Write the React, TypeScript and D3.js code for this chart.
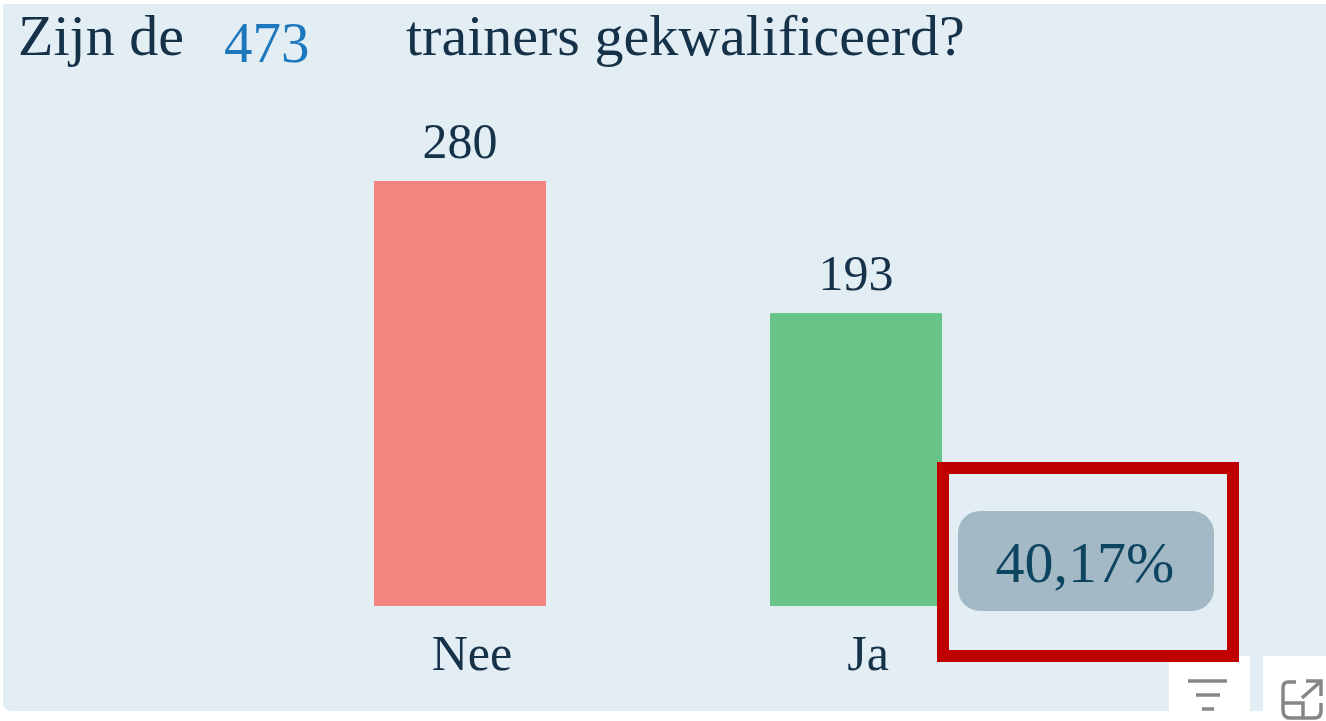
import React from "react";
import * as d3 from "d3";

const categories = ["Nee", "Ja"];
const values = [280, 193];
const barColors = ["#f4847e", "#69c48a"];
const totalLabel = "473";
const percentLabel = "40,17%";

const serif = "'Liberation Serif', serif";

export default function App() {
  const x = d3.scaleBand<string>().domain(categories).range([374, 942]).paddingInner(0.5657).paddingOuter(0);
  const y = d3.scaleLinear().domain([0, 280]).range([606, 181]);
  return (
    <svg width={1326} height={721} viewBox="0 0 1326 721" style={{ position: "absolute", left: 0, top: 0, background: "#fff" }}>
      <defs>
        <filter id="soft" x="-2%" y="-2%" width="104%" height="104%"><feGaussianBlur stdDeviation="0.7" /></filter>
      </defs>
      <g filter="url(#soft)">
        <path d="M3 4H1326V711H13Q3 711 3 703Z" fill="#e2edf4" />
        <text x={18} y={55} fontFamily={serif} fontSize={58} fill="#14304a">Zijn de</text>
        <text x={224} y={62} fontFamily={serif} fontSize={57} fill="#1d77bd">{totalLabel}</text>
        <text x={406} y={55} fontFamily={serif} fontSize={58} fill="#14304a">trainers gekwalificeerd?</text>
        {categories.map((c, i) => {
          const bx = x(c)!;
          const cx = bx + x.bandwidth() / 2;
          return (
            <g key={c}>
              <rect x={bx} y={y(values[i])} width={x.bandwidth()} height={y(0) - y(values[i])} fill={barColors[i]} />
              <text x={cx} y={y(values[i]) - 23} textAnchor="middle" fontFamily={serif} fontSize={50} fill="#14304a">{values[i]}</text>
              <text x={cx + 12} y={670} textAnchor="middle" fontFamily={serif} fontSize={50} fill="#14304a">{c}</text>
            </g>
          );
        })}
        <rect x={958} y={511} width={256} height={100} rx={22} fill="#a3b9c5" />
        <text x={1085} y={582} textAnchor="middle" fontFamily={serif} fontSize={58} fill="#0f4560">{percentLabel}</text>
        <rect x={1169} y={656} width={81} height={65} fill="#fff" />
        <rect x={1263} y={656} width={63} height={65} fill="#fff" />
        <g stroke="#868686" strokeWidth={3.5} fill="none">
          <path d="M1188 681H1227M1196 695H1220M1202 709H1214" />
          <path d="M1296 682H1288Q1283 682 1283 688V710Q1283 718 1290 718H1314Q1321 718 1321 711V703M1283 703H1303V718M1302 698L1320 682M1306 681H1321V696" />
        </g>
      </g>
      <rect x={943} y={468} width={290} height={188} fill="none" stroke="#c00000" strokeWidth={12} />
    </svg>
  );
}
